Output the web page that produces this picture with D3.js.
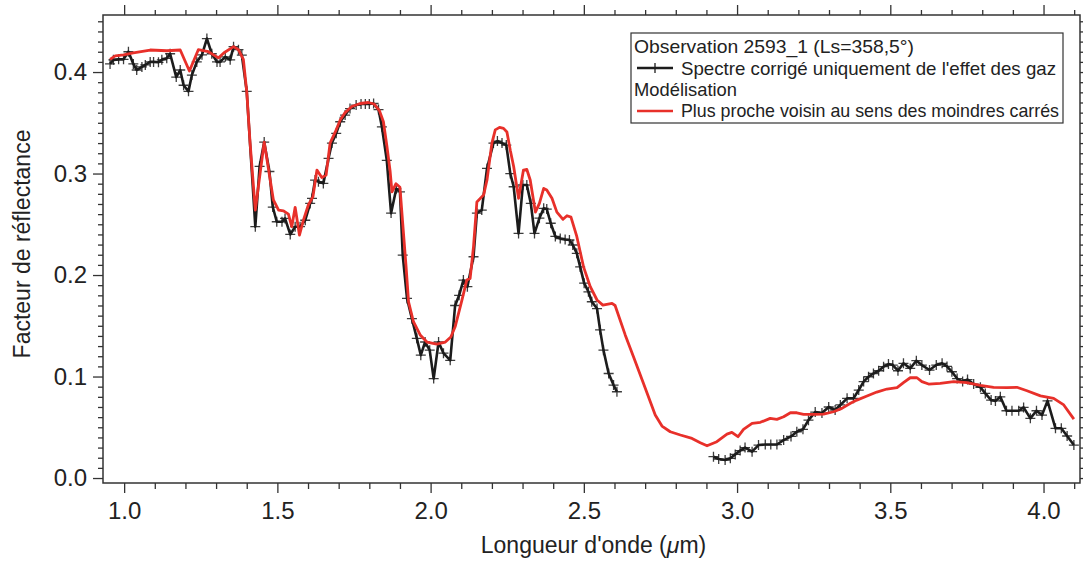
<!DOCTYPE html>
<html><head><meta charset="utf-8">
<script src="https://cdn.jsdelivr.net/npm/d3@7"></script>
<style>body{margin:0;background:#fff}svg{display:block}text{font-family:"Liberation Sans",Arial,sans-serif;fill:#222}</style>
</head><body><svg id="c" width="1083" height="563"></svg>
<script>
// Observed spectrum, segment 1 (wavelength µm, reflectance)
const obsWave1 = [0.954,0.965,0.982,0.998,1.014,1.030,1.041,1.058,1.069,1.085,1.096,1.112,1.123,1.139,1.150,1.170,1.183,1.194,1.210,1.221,1.237,1.254,1.270,1.286,1.303,1.313,1.330,1.346,1.357,1.373,1.384,1.400,1.428,1.442,1.457,1.474,1.485,1.498,1.515,1.525,1.542,1.558,1.574,1.591,1.607,1.613,1.623,1.634,1.650,1.667,1.678,1.692,1.705,1.721,1.737,1.757,1.773,1.787,1.800,1.814,1.830,1.841,1.857,1.871,1.888,1.900,1.909,1.923,1.939,1.955,1.968,1.982,1.997,2.010,2.026,2.042,2.064,2.080,2.093,2.107,2.120,2.140,2.151,2.167,2.184,2.205,2.218,2.233,2.247,2.260,2.271,2.287,2.301,2.314,2.327,2.339,2.355,2.369,2.379,2.392,2.407,2.423,2.439,2.453,2.464,2.477,2.488,2.501,2.515,2.526,2.543,2.553,2.564,2.581,2.597,2.608];
const obsRefl1 = [0.408,0.412,0.4125,0.4125,0.420,0.408,0.402,0.405,0.407,0.410,0.410,0.4096,0.412,0.4135,0.418,0.395,0.402,0.387,0.381,0.397,0.410,0.417,0.433,0.418,0.410,0.410,0.415,0.412,0.425,0.422,0.4167,0.381,0.2476,0.307,0.331,0.302,0.267,0.2525,0.2525,0.2558,0.240,0.2476,0.2476,0.254,0.2706,0.2755,0.2936,0.292,0.2903,0.315,0.330,0.3396,0.351,0.3576,0.364,0.3675,0.3685,0.3685,0.3685,0.369,0.363,0.346,0.313,0.261,0.285,0.282,0.2197,0.177,0.157,0.1376,0.121,0.134,0.126,0.098,0.134,0.123,0.116,0.170,0.180,0.195,0.1885,0.218,0.261,0.264,0.305,0.330,0.332,0.330,0.328,0.300,0.287,0.241,0.2887,0.2887,0.2706,0.241,0.256,0.2657,0.265,0.251,0.238,0.236,0.235,0.2345,0.2296,0.2214,0.208,0.192,0.1835,0.1737,0.167,0.146,0.126,0.103,0.0916,0.085];
// Observed spectrum, segment 2
const obsWave2 = [2.923,2.940,2.961,2.978,2.994,3.010,3.026,3.049,3.070,3.092,3.110,3.130,3.152,3.176,3.195,3.215,3.233,3.255,3.277,3.299,3.320,3.337,3.359,3.380,3.397,3.413,3.429,3.445,3.462,3.478,3.494,3.508,3.525,3.543,3.565,3.585,3.603,3.628,3.650,3.669,3.685,3.701,3.718,3.736,3.752,3.772,3.794,3.810,3.829,3.843,3.859,3.879,3.897,3.919,3.935,3.957,3.977,3.995,4.013,4.039,4.058,4.077,4.099];
const obsRefl2 = [0.021,0.0187,0.0177,0.0194,0.0233,0.027,0.030,0.026,0.0325,0.033,0.033,0.033,0.0374,0.041,0.0456,0.048,0.057,0.065,0.064,0.070,0.067,0.072,0.0785,0.0785,0.0867,0.095,0.0998,0.103,0.1057,0.1097,0.1123,0.1113,0.1057,0.113,0.108,0.1156,0.1113,0.1064,0.1113,0.113,0.110,0.1047,0.098,0.095,0.097,0.0926,0.0894,0.0834,0.0768,0.076,0.080,0.0663,0.0663,0.0663,0.0696,0.0588,0.0663,0.062,0.076,0.049,0.049,0.0414,0.0325];
// Model: nearest neighbour (least squares)
const modWave = [0.954,0.971,0.998,1.030,1.085,1.139,1.183,1.213,1.242,1.275,1.308,1.326,1.357,1.373,1.389,1.400,1.411,1.428,1.457,1.487,1.504,1.520,1.536,1.547,1.558,1.572,1.585,1.601,1.616,1.629,1.645,1.659,1.672,1.689,1.705,1.721,1.743,1.770,1.797,1.816,1.833,1.846,1.857,1.868,1.874,1.887,1.900,1.909,1.920,1.928,1.944,1.966,1.988,2.020,2.048,2.066,2.080,2.102,2.118,2.129,2.140,2.151,2.173,2.184,2.200,2.211,2.225,2.238,2.249,2.260,2.271,2.287,2.303,2.314,2.325,2.342,2.355,2.369,2.379,2.396,2.412,2.432,2.445,2.458,2.477,2.499,2.521,2.543,2.562,2.592,2.602,2.635,2.662,2.695,2.733,2.755,2.782,2.815,2.853,2.880,2.902,2.934,2.967,2.983,3.003,3.021,3.049,3.076,3.108,3.130,3.152,3.174,3.195,3.217,3.250,3.282,3.315,3.342,3.370,3.391,3.424,3.456,3.489,3.522,3.543,3.565,3.587,3.603,3.625,3.663,3.707,3.750,3.794,3.837,3.881,3.913,3.946,3.990,4.033,4.066,4.099];
const modRefl = [0.4125,0.416,0.417,0.419,0.4217,0.421,0.4217,0.401,0.422,0.420,0.414,0.419,0.425,0.422,0.4125,0.381,0.330,0.264,0.331,0.274,0.264,0.2633,0.260,0.2476,0.2667,0.2394,0.254,0.269,0.277,0.3034,0.296,0.2985,0.330,0.341,0.3527,0.360,0.366,0.369,0.370,0.3685,0.362,0.351,0.328,0.302,0.282,0.290,0.2864,0.251,0.208,0.1737,0.154,0.141,0.134,0.132,0.134,0.139,0.149,0.175,0.195,0.1967,0.228,0.272,0.279,0.2936,0.330,0.343,0.3455,0.3445,0.341,0.323,0.307,0.2756,0.3034,0.304,0.2936,0.262,0.2706,0.2854,0.2837,0.2756,0.262,0.2549,0.2584,0.257,0.238,0.208,0.1885,0.1754,0.1704,0.172,0.170,0.141,0.1195,0.093,0.062,0.0512,0.0456,0.0424,0.039,0.0348,0.0318,0.0358,0.0433,0.045,0.0407,0.048,0.0539,0.0549,0.0588,0.0578,0.0604,0.0643,0.0643,0.0627,0.0627,0.063,0.0653,0.0686,0.0736,0.0768,0.0808,0.0847,0.0877,0.089,0.094,0.0988,0.0988,0.095,0.0926,0.0933,0.095,0.094,0.0913,0.0894,0.089,0.0894,0.086,0.081,0.0785,0.072,0.058];
const xMajorTicks = [1.0,1.5,2.0,2.5,3.0,3.5,4.0];
const yMajorTicks = [0.0,0.1,0.2,0.3,0.4];
const legendTitle = "Observation 2593_1 (Ls=358,5°)";
const legendObs = "Spectre corrigé uniquement de l'effet des gaz";
const legendModTitle = "Modélisation";
const legendMod = "Plus proche voisin au sens des moindres carrés";

const svg = d3.select("#c");
const L=103, R=1080, T=15, B=483;
const x = d3.scaleLinear().domain([0.931,4.119]).range([L,R]);
const y = d3.scaleLinear().domain([-0.0049,0.4562]).range([B,T]);
const axisCol = "#333";

const xMinor = d3.range(10,42).map(v=>v/10).filter(v=>!xMajorTicks.some(m=>Math.abs(m-v)<1e-6));
const yMinor = d3.range(0,46).map(v=>v/100).filter(v=>!yMajorTicks.some(m=>Math.abs(m-v)<1e-6));

function styleAxis(g){ g.select(".domain").remove(); g.selectAll("line").attr("stroke",axisCol).attr("stroke-width",1.3); }
// bottom
svg.append("g").attr("transform",`translate(0,${B})`).call(d3.axisBottom(x).tickValues(xMajorTicks).tickSize(10).tickPadding(9).tickFormat(d3.format(".1f"))).call(styleAxis)
  .selectAll("text").attr("font-size",24).attr("fill","#222").attr("font-family","Liberation Sans, Arial, sans-serif");
svg.append("g").attr("transform",`translate(0,${B})`).call(d3.axisBottom(x).tickValues(xMinor).tickSize(6).tickFormat("")).call(styleAxis);
// top
svg.append("g").attr("transform",`translate(0,${T})`).call(d3.axisTop(x).tickValues(xMajorTicks).tickSize(10).tickFormat("")).call(styleAxis);
svg.append("g").attr("transform",`translate(0,${T})`).call(d3.axisTop(x).tickValues(xMinor).tickSize(5).tickFormat("")).call(styleAxis);
// left
svg.append("g").attr("transform",`translate(${L},0)`).call(d3.axisLeft(y).tickValues(yMajorTicks).tickSize(10).tickPadding(6).tickFormat(d3.format(".1f"))).call(styleAxis)
  .selectAll("text").attr("font-size",24).attr("fill","#222").attr("font-family","Liberation Sans, Arial, sans-serif");
svg.append("g").attr("transform",`translate(${L},0)`).call(d3.axisLeft(y).tickValues(yMinor).tickSize(5).tickFormat("")).call(styleAxis);
// right
svg.append("g").attr("transform",`translate(${R},0)`).call(d3.axisRight(y).tickValues(yMajorTicks).tickSize(10).tickFormat("")).call(styleAxis);
svg.append("g").attr("transform",`translate(${R},0)`).call(d3.axisRight(y).tickValues(yMinor).tickSize(5).tickFormat("")).call(styleAxis);
// frame
svg.append("rect").attr("x",L).attr("y",T).attr("width",R-L).attr("height",B-T).attr("fill","none").attr("stroke",axisCol).attr("stroke-width",1.5);

const line = d3.line().x(d=>x(d[0])).y(d=>y(d[1]));
const seg1 = obsWave1.map((w,i)=>[w,obsRefl1[i]]);
const seg2 = obsWave2.map((w,i)=>[w,obsRefl2[i]]);
const mod = modWave.map((w,i)=>[w,modRefl[i]]);
const black = "#1c1c1c", red = "#e8302a";
[seg1,seg2].forEach(s=>{
  svg.append("path").datum(s).attr("d",line).attr("fill","none").attr("stroke",black).attr("stroke-width",2.6).attr("stroke-linejoin","round");
});
const mk = 5;
[...seg1,...seg2].forEach(d=>{
  const px=x(d[0]), py=y(d[1]);
  svg.append("path").attr("d",`M${px-mk},${py}H${px+mk}M${px},${py-mk}V${py+mk}`).attr("stroke",black).attr("stroke-width",1.3).attr("opacity",0.85);
});
svg.append("path").datum(mod).attr("d",line).attr("fill","none").attr("stroke",red).attr("stroke-width",2.8).attr("stroke-linejoin","round");

// axis titles
svg.append("text").attr("x",(L+R)/2+2).attr("y",553).attr("text-anchor","middle").attr("font-size",23)
  .html('Longueur d\'onde (<tspan font-style="italic">μ</tspan>m)');
svg.append("text").attr("transform","translate(30,244) rotate(-90)").attr("text-anchor","middle").attr("font-size",23).text("Facteur de réflectance");

// legend
const lg = svg.append("g");
lg.append("rect").attr("x",631).attr("y",33).attr("width",432).attr("height",90).attr("fill","#fff").attr("stroke","#333").attr("stroke-width",1.2);
const fs = 17.8;
lg.append("text").attr("x",634).attr("y",53).attr("font-size",fs).attr("textLength",280).attr("lengthAdjust","spacingAndGlyphs").text(legendTitle);
lg.append("text").attr("x",681).attr("y",75).attr("font-size",fs).attr("textLength",375).attr("lengthAdjust","spacingAndGlyphs").text(legendObs);
lg.append("text").attr("x",634).attr("y",96).attr("font-size",fs).attr("textLength",103).attr("lengthAdjust","spacingAndGlyphs").text(legendModTitle);
lg.append("text").attr("x",681).attr("y",117).attr("font-size",fs).attr("textLength",378).attr("lengthAdjust","spacingAndGlyphs").text(legendMod);
lg.append("line").attr("x1",637).attr("x2",673).attr("y1",68).attr("y2",68).attr("stroke",black).attr("stroke-width",2.4);
lg.append("path").attr("d",`M655,${68-mk}V${68+mk}`).attr("stroke",black).attr("stroke-width",1.3);
lg.append("line").attr("x1",637).attr("x2",673).attr("y1",111).attr("y2",111).attr("stroke",red).attr("stroke-width",2.4);
</script></body></html>
